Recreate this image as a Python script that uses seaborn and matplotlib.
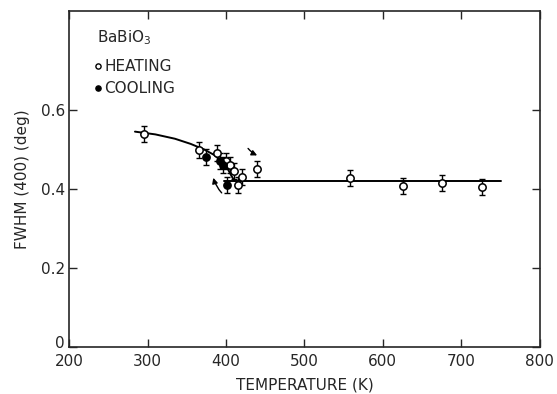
import matplotlib
matplotlib.use("Agg")
import matplotlib.pyplot as plt
import matplotlib.transforms as mtrans
import seaborn as sns
import pandas as pd

# data
heat_T = [295, 365, 388, 400, 405, 410, 415, 420, 440, 558, 626, 675, 726]
heat_fwhm = [0.540, 0.498, 0.490, 0.470, 0.460, 0.445, 0.410, 0.430, 0.450, 0.428, 0.408, 0.415, 0.405]
heat_err = [0.02] * len(heat_T)

cool_T = [375, 392, 396, 401]
cool_fwhm = [0.480, 0.470, 0.460, 0.410]
cool_err = [0.02] * len(cool_T)

# guide curves drawn through the data
curve_T = [284, 310, 335, 355, 372, 385, 395, 402, 407, 411]
curve_fwhm = [0.545, 0.538, 0.527, 0.514, 0.500, 0.486, 0.470, 0.452, 0.433, 0.420]
flat_T = [398, 750]
flat_fwhm = [0.420, 0.420]

heat = pd.DataFrame({"T": heat_T, "fwhm": heat_fwhm})
cool = pd.DataFrame({"T": cool_T, "fwhm": cool_fwhm})

sns.set_style("ticks")
plt.rcParams["font.family"] = ["DejaVu Sans"]

fig = plt.figure(figsize=(5.57, 3.94), dpi=100)
ax = fig.add_axes([0.124, 0.119, 0.845, 0.853])

ax.plot(curve_T, curve_fwhm, color="black", lw=1.4)
ax.plot(flat_T, flat_fwhm, color="black", lw=1.4)

ax.errorbar(heat_T, heat_fwhm, yerr=heat_err, fmt="none", ecolor="black",
            elinewidth=1.0, capsize=2.5, capthick=1.0)
ax.errorbar(cool_T, cool_fwhm, yerr=cool_err, fmt="none", ecolor="black",
            elinewidth=1.0, capsize=2.5, capthick=1.0)
sns.scatterplot(data=heat, x="T", y="fwhm", ax=ax, marker="o", s=28,
                facecolor="white", edgecolor="black", linewidth=1.1, zorder=4)
sns.scatterplot(data=cool, x="T", y="fwhm", ax=ax, marker="o", s=28,
                color="black", edgecolor="black", linewidth=1.0, zorder=5)

# direction arrows
ax.annotate("", xy=(443, 0.482), xytext=(426, 0.508),
            arrowprops=dict(arrowstyle="-|>", color="black", lw=1.0,
                            connectionstyle="arc3,rad=0.15", mutation_scale=8))
ax.annotate("", xy=(383, 0.435), xytext=(397, 0.385),
            arrowprops=dict(arrowstyle="-|>", color="black", lw=1.0,
                            connectionstyle="arc3,rad=-0.15", mutation_scale=8))

ax.set_xlim(200, 800)
ax.set_ylim(0, 0.85)
ax.set_xticks([200, 300, 400, 500, 600, 700, 800])
ax.set_yticks([0, 0.2, 0.4, 0.6])
ax.set_yticklabels(["0", "0.2", "0.4", "0.6"])
ax.tick_params(direction="in", length=6, width=1, labelsize=11,
               top=True, right=True, pad=3)
ax.tick_params(axis="x", pad=5)
for s in ax.spines.values():
    s.set_linewidth(1.2)
    s.set_visible(True)

# the "0" sits a little above the corner, left of "200"
zero = ax.get_yticklabels()[0]
zero.set_transform(zero.get_transform() + mtrans.ScaledTranslation(0, 4 / 72, fig.dpi_scale_trans))

ax.set_xlabel("TEMPERATURE (K)", fontsize=11, labelpad=6)
ax.set_ylabel("FWHM (400) (deg)", fontsize=11, labelpad=8)

# legend block
ax.text(0.06, 0.92, "BaBiO$_3$", transform=ax.transAxes, fontsize=11, va="center")
ax.scatter([0.062], [0.835], transform=ax.transAxes, s=14, facecolor="white",
           edgecolor="black", linewidth=1.0, clip_on=False)
ax.text(0.075, 0.835, "HEATING", transform=ax.transAxes, fontsize=11, va="center")
ax.scatter([0.062], [0.77], transform=ax.transAxes, s=14, color="black", clip_on=False)
ax.text(0.075, 0.77, "COOLING", transform=ax.transAxes, fontsize=11, va="center")

fig.savefig("out.png", dpi=100)
